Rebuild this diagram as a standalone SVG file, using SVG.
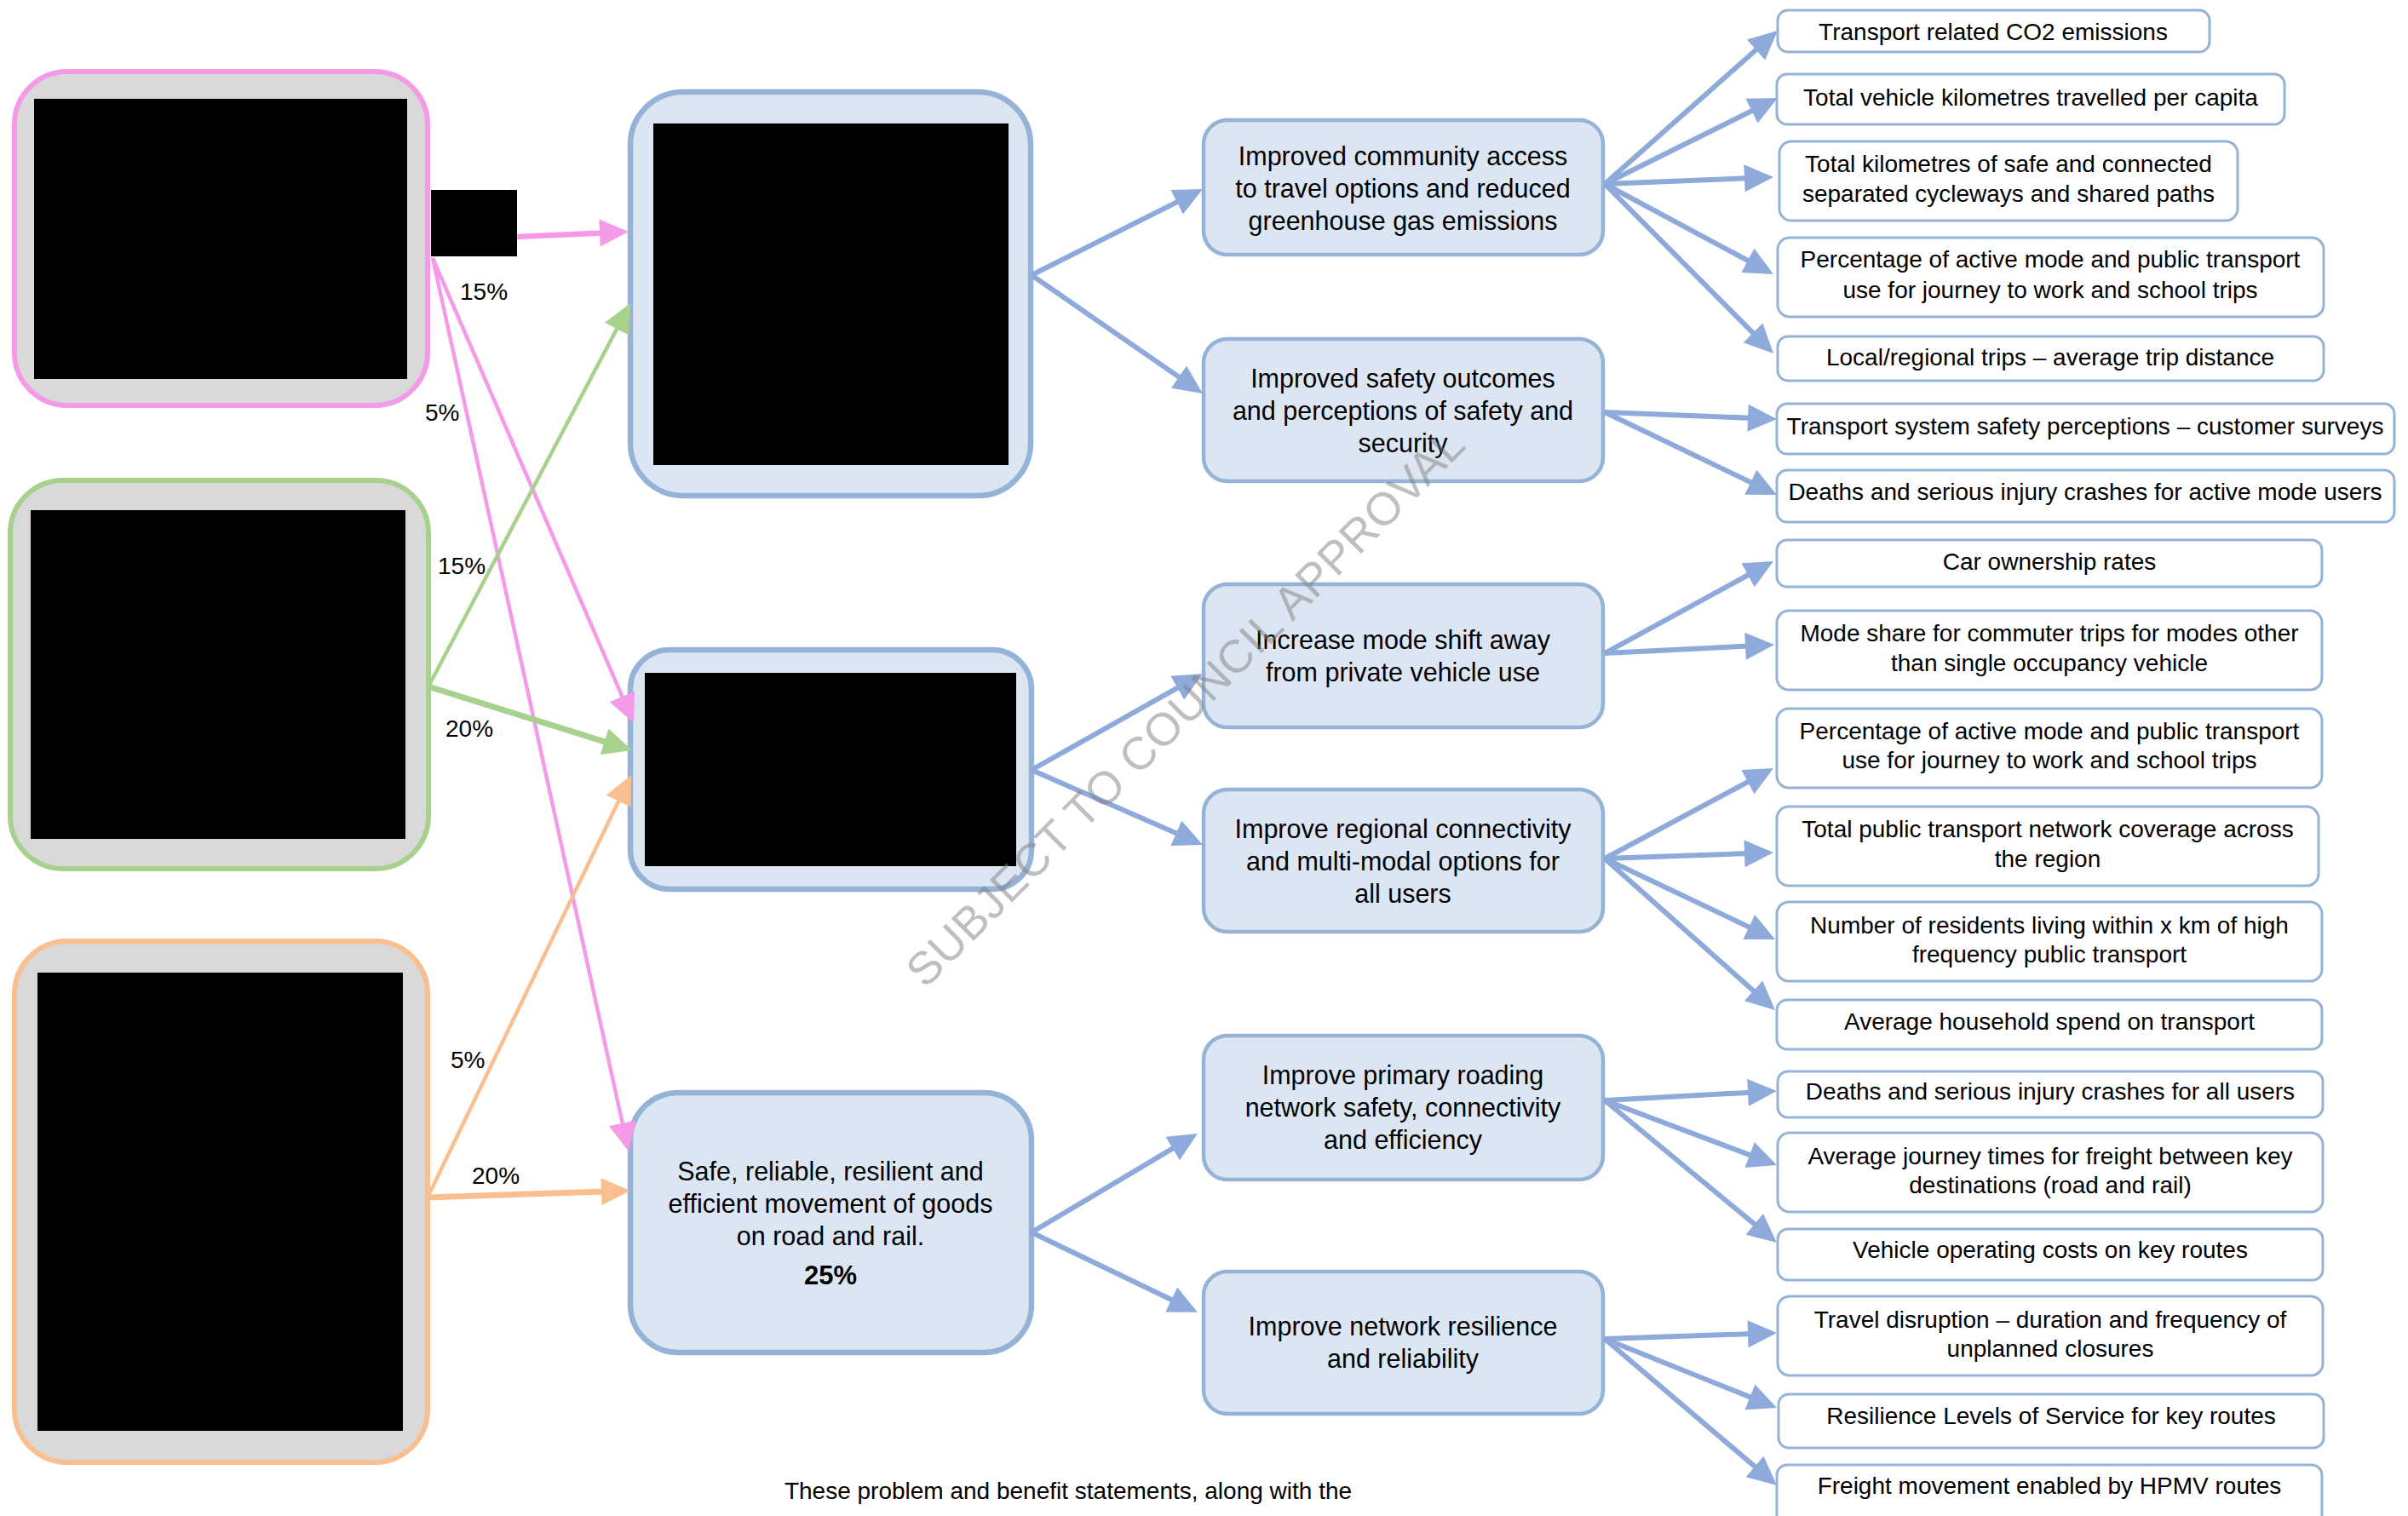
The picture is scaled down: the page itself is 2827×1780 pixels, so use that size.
<svg xmlns="http://www.w3.org/2000/svg" width="2827" height="1780" viewBox="0 0 2827 1780">
<style>
text{font-family:"Liberation Sans",Arial,sans-serif;fill:#000}
.kt{font-size:28px;text-anchor:middle}
.bt{font-size:30.5px;text-anchor:middle}
.pct{font-size:28px}
.kpi{fill:#fff;stroke:#95b3d7;stroke-width:3}
.ben{fill:#dce6f2;stroke:#95b3d7;stroke-width:4.5}
.mid{fill:#dce6f2;stroke:#95b3d7;stroke-width:6.5}
.src{fill:#d9d9d9;stroke-width:6}
.blk{fill:#000}
.ba{fill:none;stroke:#8eaadb;stroke-width:6;marker-end:url(#mb)}
.pa{fill:none;stroke:#f49ae9;marker-end:url(#mp)}
.ga{fill:none;stroke:#a9d18e;marker-end:url(#mg)}
.oa{fill:none;stroke:#f9bf8f;marker-end:url(#mo)}
.wm{font-size:54px;fill:#808080;fill-opacity:0.5;text-anchor:middle}
</style>
<defs>
<marker id="mb" markerUnits="userSpaceOnUse" markerWidth="34" markerHeight="32" refX="26" refY="16" orient="auto" overflow="visible"><path d="M0,0 L34,16 L0,32 z" fill="#8eaadb"/></marker>
<marker id="mp" markerUnits="userSpaceOnUse" markerWidth="34" markerHeight="32" refX="26" refY="16" orient="auto" overflow="visible"><path d="M0,0 L34,16 L0,32 z" fill="#f49ae9"/></marker>
<marker id="mg" markerUnits="userSpaceOnUse" markerWidth="34" markerHeight="32" refX="26" refY="16" orient="auto" overflow="visible"><path d="M0,0 L34,16 L0,32 z" fill="#a9d18e"/></marker>
<marker id="mo" markerUnits="userSpaceOnUse" markerWidth="34" markerHeight="32" refX="26" refY="16" orient="auto" overflow="visible"><path d="M0,0 L34,16 L0,32 z" fill="#f9bf8f"/></marker>
</defs>
<rect width="2827" height="1780" fill="#fff"/>

<g id="src-pink">
<rect class="src" x="17" y="84" width="485" height="392" rx="62" stroke="#f49ae9"/>
<rect class="blk" x="40" y="116" width="438" height="329"/>
<rect class="blk" x="506" y="223" width="101" height="78"/>
</g>
<g id="src-green">
<rect class="src" x="12" y="564" width="491" height="456" rx="62" stroke="#a9d18e"/>
<rect class="blk" x="36" y="599" width="440" height="386"/>
</g>
<g id="src-orange">
<rect class="src" x="17" y="1105" width="485" height="612" rx="62" stroke="#f9bf8f"/>
<rect class="blk" x="44" y="1142" width="429" height="538"/>
</g>

<g id="mid-1">
<rect class="mid" x="740" y="108" width="470" height="474" rx="62"/>
<rect class="blk" x="767" y="145" width="417" height="401"/>
</g>
<g id="mid-2">
<rect class="mid" x="740" y="763" width="471" height="281" rx="46"/>
<rect class="blk" x="757" y="790" width="436" height="227"/>
</g>
<g id="mid-3">
<rect class="mid" x="740" y="1283" width="471" height="305" rx="56" stroke="#8db3e2"/>
<text class="bt" x="975" y="1386">Safe, reliable, resilient and</text>
<text class="bt" x="975" y="1424">efficient movement of goods</text>
<text class="bt" x="975" y="1462">on road and rail.</text>
<text class="bt" x="975" y="1508" font-weight="bold" style="font-size:31px">25%</text>
</g>

<g id="ben-a">
<rect class="ben" x="1413" y="141" width="469" height="158" rx="28"/>
<text class="bt" x="1647" y="194">Improved community access</text>
<text class="bt" x="1647" y="232">to travel options and reduced</text>
<text class="bt" x="1647" y="270">greenhouse gas emissions</text>
</g>
<g id="ben-b">
<rect class="ben" x="1413" y="398" width="469" height="167" rx="28"/>
<text class="bt" x="1647" y="455">Improved safety outcomes</text>
<text class="bt" x="1647" y="493">and perceptions of safety and</text>
<text class="bt" x="1647" y="531">security</text>
</g>
<g id="ben-c">
<rect class="ben" x="1413" y="686" width="469" height="168" rx="28"/>
<text class="bt" x="1647" y="762">Increase mode shift away</text>
<text class="bt" x="1647" y="800">from private vehicle use</text>
</g>
<g id="ben-d">
<rect class="ben" x="1413" y="927" width="469" height="167" rx="28"/>
<text class="bt" x="1647" y="984">Improve regional connectivity</text>
<text class="bt" x="1647" y="1022">and multi-modal options for</text>
<text class="bt" x="1647" y="1060">all users</text>
</g>
<g id="ben-e">
<rect class="ben" x="1413" y="1216" width="469" height="169" rx="28"/>
<text class="bt" x="1647" y="1273">Improve primary roading</text>
<text class="bt" x="1647" y="1311">network safety, connectivity</text>
<text class="bt" x="1647" y="1349">and efficiency</text>
</g>
<g id="ben-f">
<rect class="ben" x="1413" y="1493" width="469" height="167" rx="28"/>
<text class="bt" x="1647" y="1568">Improve network resilience</text>
<text class="bt" x="1647" y="1606">and reliability</text>
</g>

<g id="kpi-1"><rect class="kpi" x="2087" y="12" width="507" height="49" rx="12"/><text class="kt" x="2340" y="47">Transport related CO2 emissions</text></g>
<g id="kpi-2"><rect class="kpi" x="2086" y="87" width="596" height="59" rx="12"/><text class="kt" x="2384" y="124">Total vehicle kilometres travelled per capita</text></g>
<g id="kpi-3"><rect class="kpi" x="2089" y="166" width="538" height="93" rx="14"/><text class="kt" x="2358" y="202">Total kilometres of safe and connected</text><text class="kt" x="2358" y="237">separated cycleways and shared paths</text></g>
<g id="kpi-4"><rect class="kpi" x="2087" y="279" width="641" height="93" rx="14"/><text class="kt" x="2407" y="314">Percentage of active mode and public transport</text><text class="kt" x="2407" y="350">use for journey to work and school trips</text></g>
<g id="kpi-5"><rect class="kpi" x="2087" y="395" width="641" height="52" rx="12"/><text class="kt" x="2407" y="429">Local/regional trips – average trip distance</text></g>
<g id="kpi-6"><rect class="kpi" x="2086" y="474" width="725" height="59" rx="12"/><text class="kt" x="2448" y="510">Transport system safety perceptions – customer surveys</text></g>
<g id="kpi-7"><rect class="kpi" x="2086" y="552" width="725" height="61" rx="12"/><text class="kt" x="2448" y="587">Deaths and serious injury crashes for active mode users</text></g>
<g id="kpi-8"><rect class="kpi" x="2086" y="634" width="640" height="55" rx="12"/><text class="kt" x="2406" y="669">Car ownership rates</text></g>
<g id="kpi-9"><rect class="kpi" x="2086" y="717" width="640" height="93" rx="14"/><text class="kt" x="2406" y="753">Mode share for commuter trips for modes other</text><text class="kt" x="2406" y="788">than single occupancy vehicle</text></g>
<g id="kpi-10"><rect class="kpi" x="2086" y="832" width="640" height="93" rx="14"/><text class="kt" x="2406" y="868">Percentage of active mode and public transport</text><text class="kt" x="2406" y="902">use for journey to work and school trips</text></g>
<g id="kpi-11"><rect class="kpi" x="2086" y="947" width="636" height="93" rx="14"/><text class="kt" x="2404" y="983">Total public transport network coverage across</text><text class="kt" x="2404" y="1018">the region</text></g>
<g id="kpi-12"><rect class="kpi" x="2086" y="1059" width="640" height="93" rx="14"/><text class="kt" x="2406" y="1096">Number of residents living within x km of high</text><text class="kt" x="2406" y="1130">frequency public transport</text></g>
<g id="kpi-13"><rect class="kpi" x="2086" y="1174" width="640" height="58" rx="12"/><text class="kt" x="2406" y="1209">Average household spend on transport</text></g>
<g id="kpi-14"><rect class="kpi" x="2087" y="1258" width="640" height="54" rx="12"/><text class="kt" x="2407" y="1291">Deaths and serious injury crashes for all users</text></g>
<g id="kpi-15"><rect class="kpi" x="2087" y="1330" width="640" height="93" rx="14"/><text class="kt" x="2407" y="1367">Average journey times for freight between key</text><text class="kt" x="2407" y="1401">destinations (road and rail)</text></g>
<g id="kpi-16"><rect class="kpi" x="2087" y="1443" width="640" height="60" rx="12"/><text class="kt" x="2407" y="1477">Vehicle operating costs on key routes</text></g>
<g id="kpi-17"><rect class="kpi" x="2087" y="1522" width="640" height="93" rx="14"/><text class="kt" x="2407" y="1559">Travel disruption – duration and frequency of</text><text class="kt" x="2407" y="1593">unplanned closures</text></g>
<g id="kpi-18"><rect class="kpi" x="2088" y="1637" width="640" height="63" rx="12"/><text class="kt" x="2408" y="1672">Resilience Levels of Service for key routes</text></g>
<g id="kpi-19"><rect class="kpi" x="2086" y="1720" width="640" height="72" rx="12"/><text class="kt" x="2406" y="1754">Freight movement enabled by HPMV routes</text></g>

<g id="connectors">
<path class="pa" stroke-width="6.5" d="M607,278 L730,272.4"/>
<path class="pa" stroke-width="4.5" d="M508,303 L740.8,841.7"/>
<path class="pa" stroke-width="4.5" d="M508,303 L736.3,1344.2"/>
<path class="ga" stroke-width="4.5" d="M503,806 L736.3,363.1"/>
<path class="ga" stroke-width="7" d="M503,806 L734.4,878.6"/>
<path class="oa" stroke-width="7" d="M502,1406 L732,1398.3"/>
<path class="oa" stroke-width="4.5" d="M502,1406 L737.5,917.2"/>

<path class="ba" d="M1211,323 L1404.9,225.6"/>
<path class="ba" d="M1211,323 L1405.4,457.4"/>
<path class="ba" d="M1211,904 L1405,794.9"/>
<path class="ba" d="M1211,904 L1404.7,988.8"/>
<path class="ba" d="M1211,1447 L1399.1,1335.1"/>
<path class="ba" d="M1211,1447 L1398.7,1537.3"/>

<path class="ba" d="M1884,216 L2081,41.3"/>
<path class="ba" d="M1884,216 L2079.8,118.6"/>
<path class="ba" d="M1884,216 L2074,208.3"/>
<path class="ba" d="M1884,216 L2074.9,318.2"/>
<path class="ba" d="M1884,216 L2076.4,409.3"/>
<path class="ba" d="M1884,484 L2078,491.7"/>
<path class="ba" d="M1884,484 L2078.8,577.5"/>
<path class="ba" d="M1884,767 L2075,662.8"/>
<path class="ba" d="M1884,767 L2075,757.4"/>
<path class="ba" d="M1884,1008 L2074.9,905.8"/>
<path class="ba" d="M1884,1008 L2074,1001.3"/>
<path class="ba" d="M1884,1008 L2076.8,1099.6"/>
<path class="ba" d="M1884,1008 L2078,1180.7"/>
<path class="ba" d="M1884,1292 L2078,1281.4"/>
<path class="ba" d="M1884,1292 L2078.5,1365.2"/>
<path class="ba" d="M1884,1292 L2079.8,1453.9"/>
<path class="ba" d="M1884,1572 L2078,1565.3"/>
<path class="ba" d="M1884,1572 L2078.6,1650"/>
<path class="ba" d="M1884,1572 L2079.9,1738.8"/>
</g>

<g id="labels">
<text class="pct" x="540" y="352">15%</text>
<text class="pct" x="499" y="494">5%</text>
<text class="pct" x="514" y="674">15%</text>
<text class="pct" x="523" y="865">20%</text>
<text class="pct" x="529" y="1254">5%</text>
<text class="pct" x="554" y="1390">20%</text>
</g>

<text class="kt" x="1254" y="1760">These problem and benefit statements, along with the</text>

<text class="wm" x="1391" y="830" dy="19" transform="rotate(-45 1391 830)" textLength="900">SUBJECT TO COUNCIL APPROVAL</text>
</svg>
